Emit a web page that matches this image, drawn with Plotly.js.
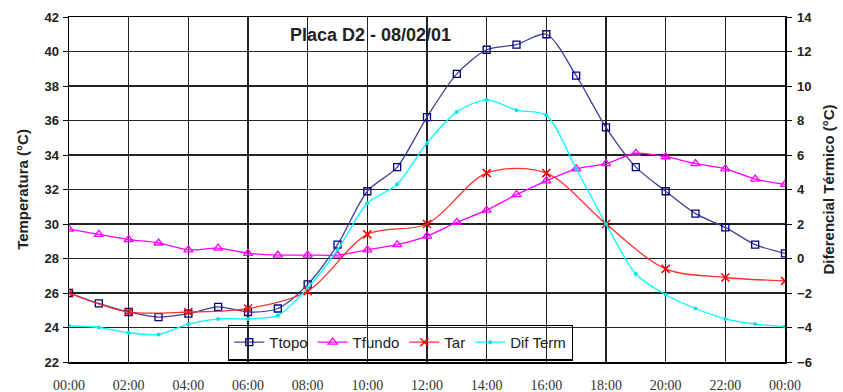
<!DOCTYPE html>
<html>
<head>
<meta charset="utf-8">
<script src="https://cdn.plot.ly/plotly-3.0.1.min.js"></script>
<style>html,body{margin:0;padding:0;background:#fff;}#chart{width:843px;height:392px;}</style>
</head>
<body>
<div id="chart"></div>
<script>
// Hours of the day (hourly readings)
const hours = [0,1,2,3,4,5,6,7,8,9,10,11,12,13,14,15,16,17,18,19,20,21,22,23,24];
// Air temperature readings every two hours
const hoursTar = [0,2,4,6,8,10,12,14,16,18,20,22,24];

const tTopo  = [26.0,25.4,24.9,24.6,24.8,25.2,24.9,25.1,26.5,28.8,31.9,33.3,36.2,38.7,40.1,40.4,41.0,38.6,35.6,33.3,31.9,30.6,29.8,28.8,28.3];
const tFundo = [29.7,29.4,29.1,28.9,28.5,28.6,28.3,28.2,28.2,28.2,28.5,28.8,29.3,30.1,30.8,31.7,32.5,33.2,33.5,34.1,33.9,33.5,33.2,32.6,32.3];
const tAr    = [26.0,24.9,24.9,25.1,26.1,29.4,30.0,32.95,32.95,30.0,27.4,26.9,26.7];
const difTerm= [-3.9,-4.0,-4.3,-4.4,-3.8,-3.5,-3.5,-3.3,-1.7,0.5,3.2,4.3,6.7,8.5,9.2,8.6,8.3,5.2,2.0,-0.9,-2.1,-2.9,-3.5,-3.8,-3.95];

const xTickVals = [0,2,4,6,8,10,12,14,16,18,20,22,24];
const xTickText = ["00:00","02:00","04:00","06:00","08:00","10:00","12:00","14:00","16:00","18:00","20:00","22:00","00:00"];

const traces = [
  {x: hours, y: tTopo, name: 'Ttopo', type: 'scatter', mode: 'lines+markers',
   line: {color: '#40409a', width: 1.3, shape: 'spline', smoothing: 0.8},
   marker: {symbol: 'square-open', size: 7, color: '#000080', line: {width: 1.3, color: '#000080'}}},
  {x: hours, y: tFundo, name: 'Tfundo', type: 'scatter', mode: 'lines+markers',
   line: {color: '#ff00ff', width: 1.3, shape: 'spline', smoothing: 0.8},
   marker: {symbol: 'triangle-up-open', size: 8, color: '#ff00ff', line: {width: 1.3, color: '#ff00ff'}}},
  {x: hoursTar, y: tAr, name: 'Tar', type: 'scatter', mode: 'lines+markers',
   line: {color: '#ff3030', width: 1.3, shape: 'spline', smoothing: 0.9},
   marker: {symbol: 'x-thin-open', size: 8, color: '#ff0000', line: {width: 1.5, color: '#ff0000'}}},
  {x: hours, y: difTerm, name: 'Dif Term', type: 'scatter', mode: 'lines+markers', yaxis: 'y2',
   line: {color: '#00ffff', width: 1.3, shape: 'spline', smoothing: 0.8},
   marker: {symbol: 'circle', size: 4, color: '#00e5e5'}}
];

const layout = {
  width: 843, height: 392,
  margin: {l: 69, r: 58, t: 17, b: 30, pad: 0},
  paper_bgcolor: '#ffffff', plot_bgcolor: '#ffffff',
  font: {family: 'Liberation Sans, Arial, sans-serif', color: '#222'},
  showlegend: true,
  legend: {orientation: 'h', x: 0.222, y: 0.004, xanchor: 'left', yanchor: 'bottom',
           bgcolor: 'rgba(0,0,0,0)', bordercolor: '#000', borderwidth: 1.3,
           font: {family: 'Liberation Sans, Arial, sans-serif', size: 15, color: '#222'},
           itemwidth: 30, tracegroupgap: 0},
  xaxis: {range: [0, 24], tickvals: xTickVals, ticktext: xTickText,
          showgrid: true, gridcolor: '#222', gridwidth: 1.6,
          showline: true, linecolor: '#000', linewidth: 1.5, mirror: true,
          zeroline: false, ticks: '', ticklabelstandoff: 10,
          tickfont: {family: 'Liberation Serif, Times New Roman, serif', size: 14, color: '#333'}},
  yaxis: {range: [22, 42], dtick: 2, tick0: 22,
          showgrid: true, gridcolor: '#222', gridwidth: 1.6,
          showline: true, linecolor: '#000', linewidth: 1.5,
          zeroline: false, ticks: 'outside', ticklen: 5, tickcolor: '#000', tickwidth: 1,
          ticklabelstandoff: 1,
          tickfont: {family: 'Liberation Sans, Arial, sans-serif', size: 13, color: '#222', weight: 'bold'},
          title: {text: 'Temperatura (°C)', standoff: 12,
                  font: {family: 'Liberation Sans, Arial, sans-serif', size: 15, color: '#222', weight: 'bold'}}},
  yaxis2: {range: [-6, 14], dtick: 2, tick0: -6, overlaying: 'y', side: 'right',
           showgrid: false, showline: true, linecolor: '#000', linewidth: 1.5,
           zeroline: false, ticks: 'outside', ticklen: 5, tickcolor: '#000', tickwidth: 1,
           ticklabelstandoff: 3,
           tickfont: {family: 'Liberation Sans, Arial, sans-serif', size: 13, color: '#222', weight: 'bold'},
           title: {text: 'Diferencial Térmico (°C)', standoff: 12,
                   font: {family: 'Liberation Sans, Arial, sans-serif', size: 15, color: '#222', weight: 'bold'}}},
  annotations: [{text: 'Placa D2 - 08/02/01', xref: 'paper', yref: 'paper',
                 x: (370 - 69) / 716, y: (362 - 35) / 345, xanchor: 'center', yanchor: 'middle',
                 showarrow: false,
                 font: {family: 'Liberation Sans, Arial, sans-serif', size: 18, color: '#222', weight: 'bold'}}]
};

Plotly.newPlot('chart', traces, layout, {displayModeBar: false, staticPlot: true});
</script>
</body>
</html>
